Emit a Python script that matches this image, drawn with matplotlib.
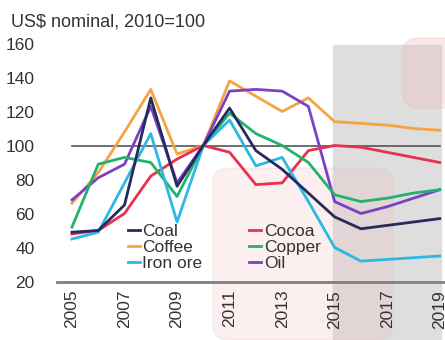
import matplotlib
matplotlib.use("Agg")
import matplotlib.pyplot as plt
from matplotlib.patches import Rectangle, FancyBboxPatch

years = list(range(2005, 2020))
coal = [49, 50, 65, 128, 76, 100, 122, 97, 86, 72, 58, 51, 53, 55, 57]
cocoa = [48, 50, 60, 82, 92, 100, 96, 77, 78, 97, 100, 99, 96, 93, 90]
coffee = [66, 84, 108, 133, 95, 100, 138, 129, 120, 128, 114, 113, 112, 110, 109]
copper = [52, 89, 93, 90, 70, 100, 119, 107, 100, 90, 71, 67, 69, 72, 74]
iron_ore = [45, 49, 78, 107, 55, 100, 115, 88, 93, 67, 40, 32, 33, 34, 35]
oil = [68, 81, 89, 123, 78, 100, 132, 133, 132, 123, 67, 60, 64, 69, 74]

yticks = [20, 40, 60, 80, 100, 120, 140, 160]
xticks = [2005, 2007, 2009, 2011, 2013, 2015, 2017, 2019]

plt.rcParams["font.family"] = ["Liberation Sans", "DejaVu Sans"]

W, H = 445, 340
fig = plt.figure(figsize=(W / 100, H / 100), dpi=100)


def fx(x):
    return x / W


def fy(y):
    return 1 - y / H


# faint background shapes
fig.patches.append(Rectangle((fx(333), 0), fx(441) - fx(333), fy(45),
                             transform=fig.transFigure, color="#dedede", zorder=0))
fig.patches.append(FancyBboxPatch((fx(213), fy(340)), fx(393) - fx(213), fy(168) - fy(340),
                                  boxstyle="round,pad=0,rounding_size=0.04",
                                  transform=fig.transFigure, color="#f0b8b8", alpha=0.22, zorder=0))
fig.patches.append(FancyBboxPatch((fx(403), fy(108)), fx(460) - fx(403), fy(38) - fy(108),
                                  boxstyle="round,pad=0,rounding_size=0.04",
                                  transform=fig.transFigure, color="#f0b8b8", alpha=0.3, zorder=0))

ax = fig.add_axes([fx(57), fy(281.5), 1 - fx(57), fy(43.5) - fy(281.5)])
ax.set_zorder(1)
ax.patch.set_alpha(0)

ax.plot([2005, 2019], [100, 100], color="#555555", lw=1.2)

series = [
    ("Coal", coal, "#262b5c"),
    ("Coffee", coffee, "#f5a443"),
    ("Iron ore", iron_ore, "#2bb8e3"),
    ("Cocoa", cocoa, "#e8304f"),
    ("Copper", copper, "#23b16c"),
    ("Oil", oil, "#7d3fc4"),
]
draw_order = ["Coffee", "Oil", "Cocoa", "Copper", "Iron ore", "Coal"]
handles = {}
for name, vals, col in series:
    z = 2 + draw_order.index(name)
    handles[name], = ax.plot(years, vals, color=col, lw=2, label=name, zorder=z)

ax.set_xlim(2004.43, 2019.2)
ax.set_ylim(20, 160)
ax.set_yticks(yticks)
ax.set_xticks(xticks)
ax.set_xticklabels([str(x) for x in xticks], rotation=90)
ax.tick_params(length=0, labelsize=12.5, labelcolor="#333333")
ax.tick_params(axis="y", pad=16)
ax.tick_params(axis="x", pad=6)
for s in ["left", "right", "top"]:
    ax.spines[s].set_visible(False)
ax.spines["bottom"].set_color("#808080")
ax.spines["bottom"].set_linewidth(2)

leg = ax.legend([handles[n] for n, _, _ in series], [n for n, _, _ in series],
                ncol=2, loc="lower left", bbox_to_anchor=(0.155, 0.0),
                frameon=False, fontsize=12.5, handlelength=0.7, handletextpad=0.15,
                labelspacing=0.05, columnspacing=2.7, borderpad=0.1)
for t in leg.get_texts():
    t.set_color("#333333")

fig.text(fx(11), fy(22), "US$ nominal, 2010=100", fontsize=13, color="#333333",
         va="center", ha="left")

fig.savefig("out.png", dpi=100)
